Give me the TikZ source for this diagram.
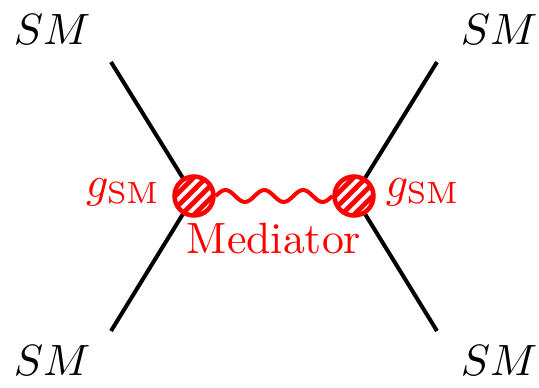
\documentclass[tikz,border=0pt]{standalone}
\tikzset{
  big/.style={font=\fontsize{10}{12}\selectfont, inner sep=0pt, scale=4.38},
  leg/.style={line width=4pt, black},
  blob/.style={circle, fill=red, draw=red, line width=4.5pt, minimum size=39pt, inner sep=0pt,
    path picture={
      \foreach \i in {-4,...,4}
        \draw[white, line width=3.8pt]
          ([shift={(\i*12.5-40,40)}]path picture bounding box.center) -- ++(80,-80);
    }},
  wave/.style={red, line width=4pt},
}
\begin{document}
\begin{tikzpicture}[x=1pt,y=-1pt]
\useasboundingbox (0,0) rectangle (539,388);
\coordinate (tl) at (111,62);
\coordinate (bl) at (111,331);
\coordinate (tr) at (437,62);
\coordinate (br) at (437,331);
\coordinate (vL) at (194,196);
\coordinate (vR) at (354,196);
\draw[leg] (tl) -- (vL) -- (bl);
\draw[leg] (tr) -- (vR) -- (br);
\node[blob] (L) at (vL) {};
\node[blob] (R) at (vR) {};
\draw[wave] (L.east) \foreach \k in {1,2,3} {
    sin ++(9.708,-6) cos ++(9.708,6) sin ++(9.708,6) cos ++(9.708,-6) };
\node[big, anchor=base west] (s1) at (13,45) {$SM$};
\node[big, anchor=base west] (s2) at (460,45) {$SM$};
\node[big, anchor=base west] (s3) at (13,375) {$SM$};
\node[big, anchor=base west] (s4) at (460,375) {$SM$};
\node[big, red, anchor=base east] (gL) at (161,197) {$g_{\rm SM}$};
\node[big, red, anchor=base west] (gR) at (385,197) {$g_{\rm SM}$};
\node[big, red, anchor=base] (med) at (274,253) {Mediator};
\end{tikzpicture}
\end{document}
